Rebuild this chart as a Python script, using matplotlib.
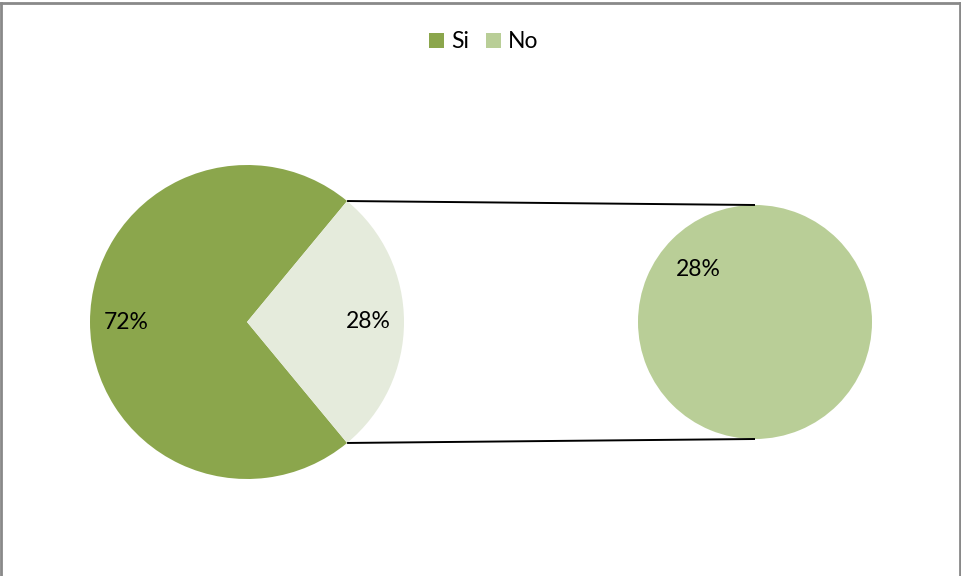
import numpy as np
import matplotlib
matplotlib.use("Agg")
import matplotlib.pyplot as plt
from matplotlib.patches import Patch
from matplotlib.lines import Line2D

plt.rcParams['font.family'] = ['Lato', 'DejaVu Sans']

# Data
categories = ["Si", "No"]
values = [72, 28]
main_colors = ["#8BA64C", "#E5EBDC"]
detail_color = "#B9CE97"
legend_colors = ["#8BA64C", "#B9CE97"]

W, H = 961, 576
fig = plt.figure(figsize=(W / 100, H / 100), dpi=100)
ax = fig.add_axes([0, 0, 1, 1])

# Main pie (left) and secondary pie (right), in pixel-like data units
c1, r1 = (247, 254), 157
c2, r2 = (755, 254), 117

no_span = 360 * values[1] / sum(values)
start = no_span / 2  # "No" wedge centred on the right side

ax.pie(values, colors=main_colors, startangle=start, counterclock=True,
       center=c1, radius=r1, wedgeprops=dict(linewidth=0),
       autopct=lambda p: f"{p:.0f}%", pctdistance=0.77,
       textprops=dict(fontsize=16.5, color="black"))

ax.pie([values[1]], colors=[detail_color], startangle=137.6 - 180,
       center=c2, radius=r2, wedgeprops=dict(linewidth=0),
       autopct=lambda p: f"{values[1]:.0f}%", pctdistance=0.66,
       textprops=dict(fontsize=16.5, color="black"))

# Connector lines from the "No" wedge edges to the secondary pie
a = np.deg2rad(no_span / 2)
for sgn in (1, -1):
    x0 = c1[0] + r1 * np.cos(a)
    y0 = c1[1] + sgn * r1 * np.sin(a)
    x1 = c2[0]
    y1 = c2[1] + sgn * r2
    ax.plot([x0, x1], [y0, y1], color="black", lw=1.4, solid_capstyle="butt")

ax.set_xlim(0, W)
ax.set_ylim(0, H)
ax.set_aspect("equal")
ax.axis("off")

# Legend
handles = [Patch(facecolor=c, edgecolor="none") for c in legend_colors]
fig.legend(handles, categories, loc="center", bbox_to_anchor=(0.5 + 3 / W, 1 - 42 / H),
           ncol=2, frameon=False, fontsize=16.5, handlelength=0.66,
           handleheight=0.66, handletextpad=0.3, columnspacing=0.75)

# Outer chart border
border = dict(color="#898989", lw=2.0, transform=fig.transFigure)
fig.add_artist(Line2D([0.001, 0.001], [0, 1 - 2.5 / H], **border))
fig.add_artist(Line2D([0.001, 1 - 1.5 / W], [1 - 2.5 / H, 1 - 2.5 / H], **border))
fig.add_artist(Line2D([1 - 1.5 / W, 1 - 1.5 / W], [0, 1 - 2.5 / H], **border))

fig.savefig("out.png", dpi=100)
